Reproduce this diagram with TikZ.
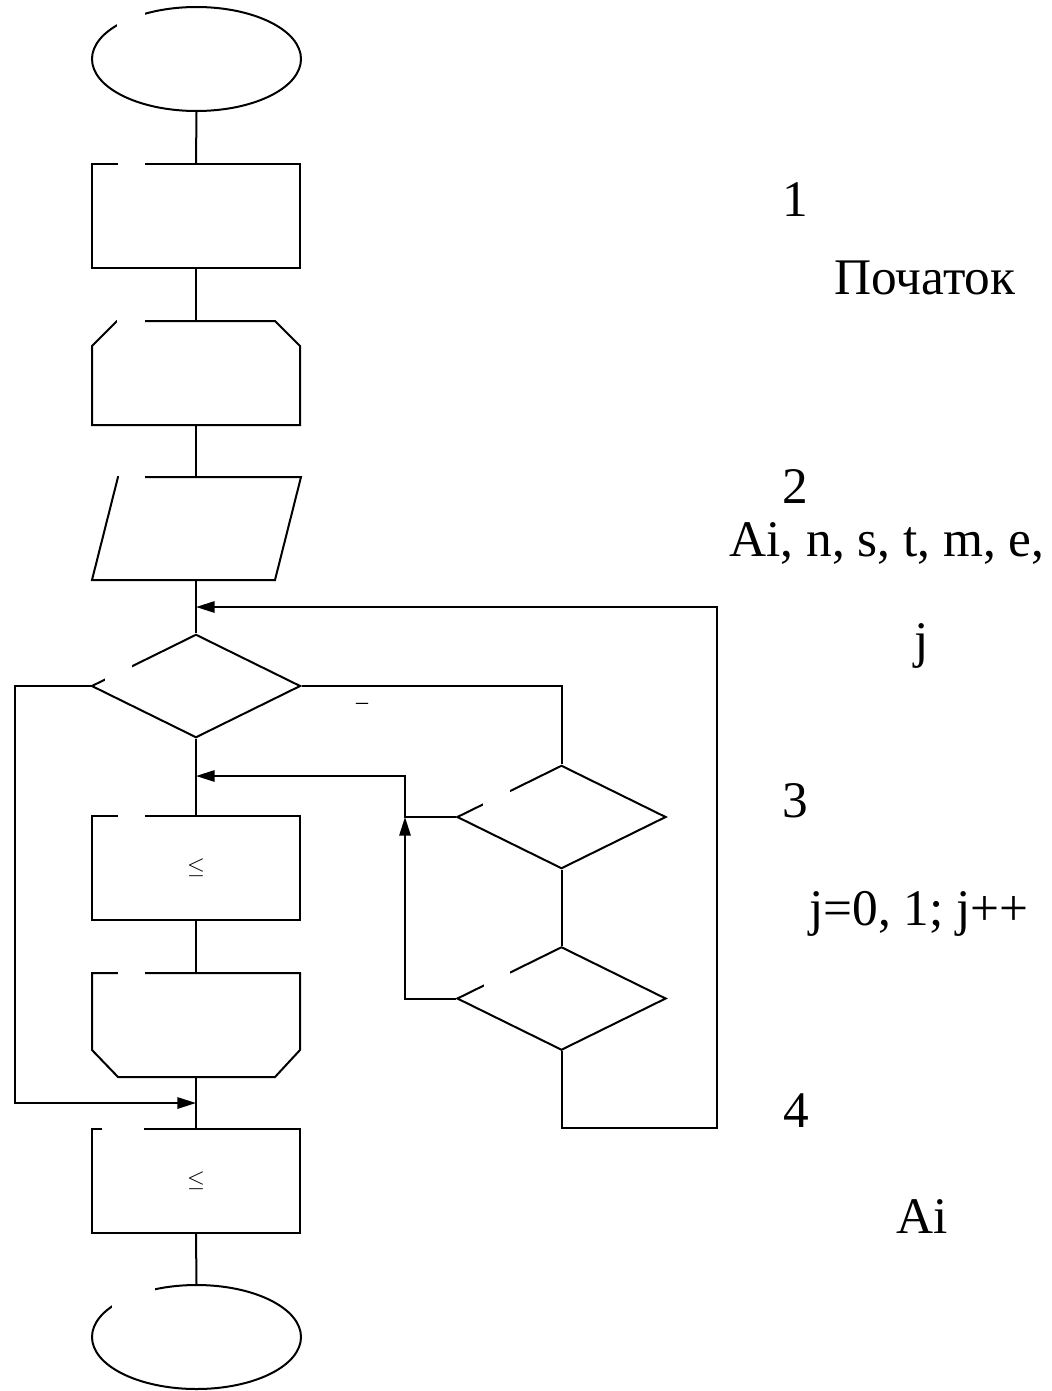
\documentclass[tikz,border=0pt]{standalone}
\usepackage{fontspec}
\setmainfont{Liberation Serif}
\usetikzlibrary{shapes.geometric,arrows.meta}
\begin{document}
\begin{tikzpicture}[x=0.75pt,y=-0.75pt,line width=1.5pt,
  box/.style={draw=none,inner sep=0pt,minimum width=156pt,minimum height=78pt},
  shp/.style={draw=black,line width=1.5pt,line join=miter},
  term/.style={shape=ellipse,draw=black,inner sep=0pt,minimum width=156.75pt,minimum height=78pt},
  rbox/.style={shape=rectangle,draw=black,inner sep=0pt,minimum width=156pt,minimum height=78pt},
  dec/.style={shape=diamond,draw=black,inner sep=0pt,minimum width=156.75pt,minimum height=77.5pt},
  gap/.style={fill=white,draw=none},
  conn/.style={draw=black,line width=1.5pt},
  arr/.style={conn,-{Triangle[length=14pt,width=8.5pt]}},
  big/.style={font=\fontsize{38.5}{40}\selectfont,inner sep=0pt,anchor=base},
  sym/.style={font=\fontsize{16}{18}\selectfont,inner sep=0pt}]
\useasboundingbox (0,0) rectangle (1052,1391);
% shapes
\node[term] (start) at (196.5,59) {};
\node[rbox] (r1) at (196,216) {};
\node[box] (r2) at (196,373) {};
\draw[shp] (92,346) -- (117,321) -- (275,321) -- (300,346) -- (300,425) -- (92,425) -- cycle;
\node[box] (par) at (196.5,528.5) {};
\draw[shp] (118,477) -- (301,477) -- (275,580) -- (92,580) -- cycle;
\node[dec] (d1) at (196,686) {};
\node[dec] (d2) at (561.5,817) {};
\node[dec] (d3) at (561.5,998.5) {};
\node[rbox] (r3) at (196,868) {};
\node[box] (r4) at (196,1025) {};
\draw[shp] (92,973) -- (300,973) -- (300,1050) -- (275,1077) -- (118,1077) -- (92,1050) -- cycle;
\node[rbox] (r5) at (196,1181) {};
\node[term] (stop) at (196.5,1337) {};
% helper coordinates
\coordinate (r2n) at (196,321);
\coordinate (r2s) at (196,425);
\coordinate (parn) at (196,477);
\coordinate (pars) at (196,580);
\coordinate (r4n) at (196,973);
\coordinate (r4s) at (196,1077);
\coordinate (jA) at (196,607);
\coordinate (jB) at (196,776);
\coordinate (jC) at (196,1103);
\coordinate (jD) at (405,817);
% connectors
\draw[conn] (start.south) -- (r1.north);
\draw[conn] (r1.south) -- (r2n);
\draw[conn] (r2s) -- (parn);
\draw[conn] (pars) -- (d1.north);
\draw[conn] (d1.south) -- (r3.north);
\draw[conn] (r3.south) -- (r4n);
\draw[conn] (r4s) -- (r5.north);
\draw[conn] (r5.south) -- (stop.north);
\draw[conn] (d1.east) -- (d1.east -| d2.north) -- (d2.north);
\draw[conn] (d2.south) -- (d3.north);
\draw[arr] (d1.west) -- (15,686) -- (15,1103) -- (jC);
\draw[arr] (d2.west) -- (jD) -- (405,776) -- (jB);
\draw[arr] (d3.west) -- (d3.west -| jD) -- (jD);
\draw[arr] (d3.south) -- (561.5,1128) -- (717,1128) -- (717,607) -- (jA);
% gaps
\fill[gap] (117,5) rectangle (145,30);
\fill[gap] (118,158) rectangle (145,170);
\fill[gap] (117,315) rectangle (145,327);
\fill[gap] (119,471) rectangle (145,483);
\fill[gap] (105,655) rectangle (132,683);
\fill[gap] (483,784) rectangle (510,807);
\fill[gap] (484,966) rectangle (510,990);
\fill[gap] (118,810) rectangle (145,822);
\fill[gap] (118,967) rectangle (145,979);
\fill[gap] (102,1123) rectangle (144,1135);
\fill[gap] (112,1278) rectangle (155,1309);
% small labels
\node[sym] (le1) at (r3.center) {$\leq$};
\node[sym] (le2) at (r5.center) {$\leq$};
\node[font=\fontsize{18}{20}\selectfont,inner sep=0pt] (minus) at (362,706) {–};
% right-hand texts
\node[big] (t1) at (795,216) {1};
\node[big] (t2) at (925,294) {Початок};
\node[big] (t3) at (795,503) {2};
\node[big] (t4) at (887,556) {Ai, n, s, t, m, e,};
\node[big] (t5) at (922,657) {j};
\node[big] (t6) at (795,817) {3};
\node[big] (t7) at (919,925) {j=0, 1; j++};
\node[big] (t8) at (796,1127) {4};
\node[big] (t9) at (922,1233) {Ai};
\end{tikzpicture}
\end{document}
